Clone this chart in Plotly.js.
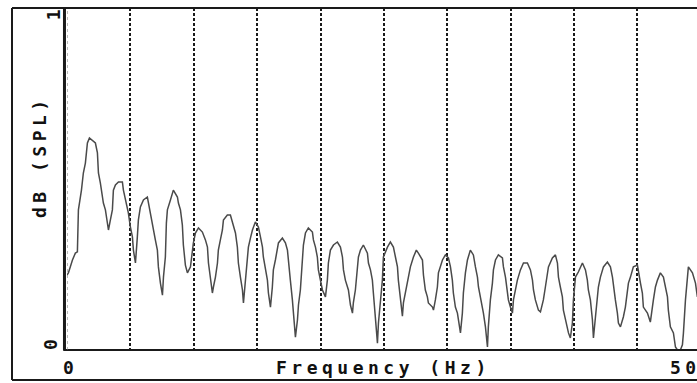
<!DOCTYPE html>
<html>
<head>
<meta charset="utf-8">
<script src="https://cdn.plot.ly/plotly-3.0.1.min.js"></script>
<style>
  html, body { margin: 0; padding: 0; background: #ffffff; }
  #chart { width: 697px; height: 383px; }
  .annotation-text { letter-spacing: 4.5px; }
</style>
</head>
<body>
<div id="chart"></div>
<script>
// Frequency response values (Hz, dB on a 0..114 scale)
const freqHz = [0,11,43,66,82,90,114,129,145,161,177,200,224,240,248,263,279,287,303,319,327,342,358,366,382,406,437,445,461,477,484,500,516,524,540,555,563,579,603,634,642,658,674,682,697,713,721,737,753,761,776,784,792,816,839,871,879,895,910,918,934,950,974,997,1013,1037,1068,1092,1108,1116,1131,1147,1155,1171,1187,1194,1210,1226,1234,1265,1289,1305,1329,1344,1352,1368,1384,1392,1407,1423,1431,1447,1463,1486,1510,1526,1542,1549,1565,1581,1589,1605,1620,1628,1644,1668,1699,1723,1739,1747,1762,1778,1786,1802,1818,1826,1841,1857,1865,1881,1904,1936,1944,1960,1975,1983,1999,2015,2039,2054,2062,2078,2102,2133,2157,2173,2181,2196,2220,2236,2252,2259,2275,2291,2299,2315,2338,2370,2378,2394,2409,2417,2433,2449,2457,2472,2488,2496,2528,2551,2575,2591,2607,2614,2630,2646,2654,2670,2685,2709,2733,2756,2772,2804,2812,2827,2843,2851,2883,2891,2906,2922,2930,2946,2962,2985,3009,3025,3040,3048,3064,3080,3088,3104,3119,3127,3143,3159,3182,3206,3222,3238,3246,3261,3277,3285,3301,3317,3324,3340,3356,3364,3380,3403,3435,3443,3459,3474,3482,3498,3514,3522,3537,3553,3577,3601,3632,3656,3672,3680,3695,3719,3735,3758,3774,3790,3798,3829,3853,3869,3877,3892,3908,3916,3932,3948,3956,3971,3987,3995,4011,4034,4066,4090,4105,4113,4129,4145,4153,4169,4184,4192,4208,4232,4263,4287,4303,4311,4326,4342,4350,4366,4389,4405,4421,4429,4445,4468,4500,4508,4524,4539,4547,4579,4602,4626,4642,4658,4681,4705,4721,4737,4744,4760,4784,4800,4816,4839,4855,4863,4879,4894,4902,4934,4958,4973];
const levelDb = [25,25.7,30,32.3,32.7,46.7,53.3,59,62.3,69,70.7,70,69,65.7,59,55.7,51,49,46.7,42.3,40,43.3,46.7,53.3,55,56,56,53.3,50,47.7,45.7,41,37.7,33.3,29,37.7,43.3,47.7,50,51,49,45.7,42.3,40,36.7,33.3,27.7,22.3,18.3,24.3,31,42.3,46.7,50,53.3,51,49,46.7,41.7,35,28.3,25.7,27.7,35.7,39,40.7,39.3,36.7,34.3,29,23.3,19,21,24.3,29,33.3,36.7,40,43.3,45,45,42.3,39,34.3,29,24.3,20,15.7,23.3,29,34.3,37.3,40,42.7,41,37.7,34.3,31,26.7,23.3,19,14.3,21,26.7,30,35.7,37.3,35.7,33.3,29,23.3,16.7,13.3,4.3,10,15,20,28.3,35,39,40.7,39.3,36.7,34.3,31,26.7,23.3,20,17.7,23.3,29,33.3,35,36,34.3,31,26.7,23.3,20,15,12.3,15.7,20,26.7,31,33.3,35,32.3,29,26.7,23.3,19,10,2.3,9,16.7,23.3,31,34.3,36,34.3,31,27.7,23.3,17.7,11.3,15.7,19,22.3,27.7,31,33.3,32.3,30,25,20,17.7,15.7,14.3,13.3,16.7,21,25.7,27.7,30,31.7,30.7,27.7,23.3,19,14.3,12.3,10,5.7,12.3,19,25.7,30,33.3,31.7,27.7,24.3,21,17.7,14.3,12.3,7.7,1,7.7,16.7,22.3,26.7,30,31.7,30.7,27.7,24.3,20,16.7,14.3,12.3,16.7,20,23.3,26.7,29,29,26.7,23.3,20,16.7,13.3,12.7,16.7,21,25.7,27.7,30.7,31.7,29,24.3,21,17.7,13.3,10,7.7,5.7,4,9,16.7,24.3,26,29,26.7,23.3,20,16.7,10,4,11,16.7,21,24.3,27.7,29.3,27.7,24.3,21,16.7,12.3,9,7.7,11,14.3,19,22.3,24.3,27.7,28.3,25.7,22.3,19,14.3,12.3,9.3,16.7,21,23.3,25.7,24.3,21,17.7,13.3,7.7,5.7,1,0,0,1.7,5.7,16.7,23.3,27.7,25.7,22.3,17.7];
const gridFreqs = [500,1000,1500,2000,2500,3000,3500,4000,4500];
const xTickText = ["0", "5000"];
const yTickText = ["0", "1"];
const xTitle = "Frequency (Hz)";
const yTitle = "dB (SPL)";

const labelFont = {family: "DejaVu Sans Mono", size: 18, color: "#111111", weight: "bold"};
const ink = "#1a1a1a";

const trace = {
  x: freqHz,
  y: levelDb,
  type: "scatter",
  mode: "lines",
  line: {color: "#4a4a4a", width: 1.5},
  hoverinfo: "skip",
  showlegend: false
};

const layout = {
  width: 697,
  height: 383,
  margin: {l: 67, r: 0, t: 8, b: 33, pad: 0},
  paper_bgcolor: "#ffffff",
  plot_bgcolor: "#ffffff",
  showlegend: false,
  xaxis: {
    range: [0, 4970],
    tickmode: "array",
    tickvals: gridFreqs,
    showticklabels: false,
    ticks: "",
    showgrid: true,
    gridcolor: ink,
    gridwidth: 2,
    griddash: "3px,2px",
    zeroline: false,
    showline: false,
    fixedrange: true
  },
  yaxis: {
    range: [0, 114],
    showgrid: false,
    showticklabels: false,
    ticks: "",
    zeroline: false,
    showline: false,
    fixedrange: true
  },
  shapes: [
    {type: "line", xref: "paper", yref: "paper", x0: -0.0873, x1: 1.01, y0: 1, y1: 1, line: {color: ink, width: 2}},
    {type: "line", xref: "paper", yref: "paper", x0: -0.0873, x1: -0.0873, y0: -0.0877, y1: 1, line: {color: ink, width: 2}},
    {type: "line", xref: "paper", yref: "paper", x0: -0.0873, x1: 1.01, y0: -0.0877, y1: -0.0877, line: {color: ink, width: 2}},
    {type: "line", xref: "paper", yref: "paper", x0: -0.004, x1: -0.004, y0: 0, y1: 1, line: {color: ink, width: 3}},
    {type: "line", xref: "paper", yref: "paper", x0: -0.006, x1: 1.01, y0: 0, y1: 0, line: {color: ink, width: 2}},
    {type: "line", xref: "x", yref: "paper", x0: 0, x1: 0, y0: 0, y1: 1, line: {color: "#777777", width: 1, dash: "dot"}}
  ],
  annotations: [
    {text: xTitle, xref: "paper", yref: "paper", x: 0.502, y: -0.0526, xanchor: "center", yanchor: "middle", showarrow: false, font: labelFont},
    {text: yTitle, xref: "paper", yref: "paper", x: -0.0444, y: 0.5643, xanchor: "center", yanchor: "middle", textangle: -90, showarrow: false, font: labelFont},
    {text: xTickText[0], xref: "paper", yref: "paper", x: 0.0048, y: -0.0526, xanchor: "center", yanchor: "middle", showarrow: false, font: labelFont},
    {text: xTickText[1], xref: "paper", yref: "paper", x: 1.0048, y: -0.0526, xanchor: "center", yanchor: "middle", showarrow: false, font: labelFont},
    {text: yTickText[0], xref: "paper", yref: "paper", x: -0.0254, y: 0.0234, xanchor: "center", yanchor: "middle", textangle: -90, showarrow: false, font: labelFont},
    {text: yTickText[1], xref: "paper", yref: "paper", x: -0.0222, y: 0.985, xanchor: "center", yanchor: "middle", textangle: -90, showarrow: false, font: labelFont}
  ]
};

Plotly.newPlot("chart", [trace], layout, {staticPlot: true, displayModeBar: false});
</script>
</body>
</html>
